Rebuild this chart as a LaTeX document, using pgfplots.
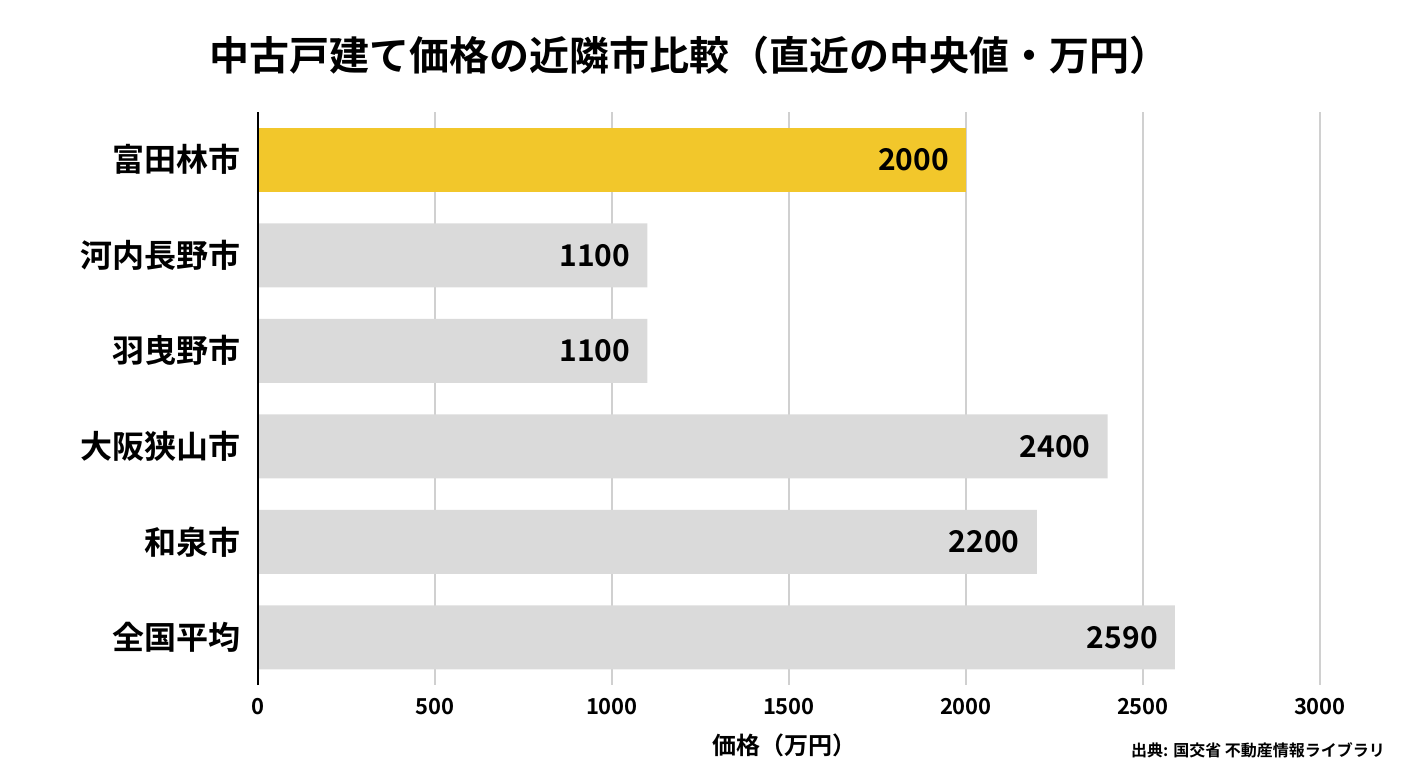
\documentclass[border=0pt]{standalone}
\usepackage{pgfplots}
\pgfplotsset{compat=1.18}
\usepackage{fontspec}
\setmainfont{Noto Sans CJK JP}[BoldFont={Noto Sans CJK JP Bold}]
\definecolor{hl}{HTML}{F2C72B}
\definecolor{gr}{HTML}{DADADA}
\definecolor{gridc}{HTML}{D0D0D0}
\begin{document}
\begin{tikzpicture}
\begin{axis}[
  scale only axis, width=531pt, height=286.5pt,
  xmin=0, xmax=3000, ymin=-0.5, ymax=5.5, y dir=reverse,
  xbar, bar width=32pt, clip=false,
  axis line style={draw=none},
  xtick={0,500,...,3000}, xmajorgrids, grid style={gridc, line width=0.6pt},
  ytick={0,...,5},
  yticklabels={富田林市,河内長野市,羽曳野市,大阪狭山市,和泉市,全国平均},
  yticklabel style={font=\fontsize{16}{18}\selectfont\bfseries, xshift=-5pt},
  xticklabel style={font=\fontsize{11}{13}\selectfont\bfseries, yshift=-3pt},
  /pgf/number format/assume math mode=true,
  /pgf/number format/set thousands separator={},
  major tick length=0pt,
  nodes near coords, point meta=x,
  every node near coord/.style={anchor=east, xshift=-5pt, font=\fontsize{15}{17}\selectfont\bfseries, black},
]
\addplot[fill=hl, draw=none, bar shift=0pt] coordinates {(2000,0)};
\addplot[fill=gr, draw=none, bar shift=0pt] coordinates {(1100,1) (1100,2) (2400,3) (2200,4) (2590,5)};
\draw[black, line width=0.8pt] (axis description cs:0,0) -- (axis description cs:0,1);
\path (axis description cs:-0.2429,-0.1449) rectangle (axis description cs:1.0829,1.1955);
\node[font=\fontsize{20}{24}\selectfont\bfseries] at (axis description cs:0.4068,1.0995) {中古戸建て価格の近隣市比較（直近の中央値・万円）};
\node[font=\fontsize{12}{14}\selectfont\bfseries] at (axis description cs:0.4959,-0.1047) {価格（万円）};
\node[font=\fontsize{8}{10}\selectfont\bfseries, anchor=east] at (axis description cs:1.0678,-0.1134) {出典: 国交省 不動産情報ライブラリ};
\end{axis}
\end{tikzpicture}
\end{document}
